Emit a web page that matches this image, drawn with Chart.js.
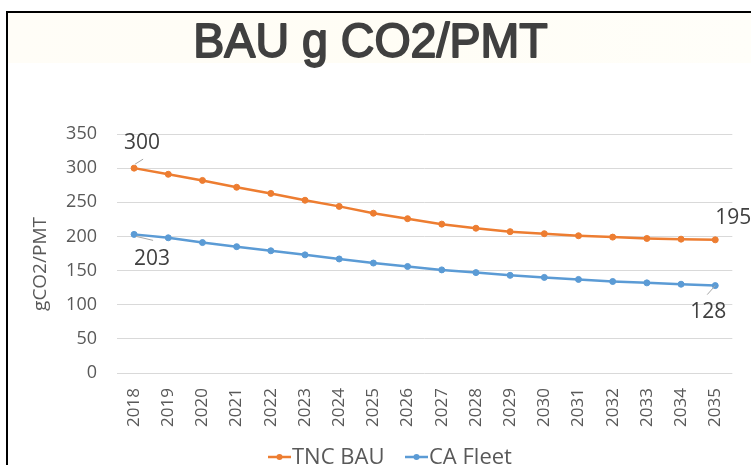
<!DOCTYPE html>
<html>
<head>
<meta charset="utf-8">
<script src="https://cdn.jsdelivr.net/npm/chart.js@4/dist/chart.umd.min.js"></script>
<style>
  html, body { margin: 0; padding: 0; background: #ffffff; }
  #wrap { position: relative; width: 751px; height: 465px; }
</style>
</head>
<body>
<div id="wrap"><canvas id="c" width="751" height="465"></canvas></div>
<script>
const chartTitle = "BAU g CO2/PMT";
const yAxisTitle = "gCO2/PMT";
const years = ["2018","2019","2020","2021","2022","2023","2024","2025","2026","2027","2028","2029","2030","2031","2032","2033","2034","2035"];
const tncBau = [300, 291, 282, 272, 263, 253, 244, 234, 226, 218, 212, 207, 204, 201, 199, 197, 196, 195];
const caFleet = [203, 198, 191, 185, 179, 173, 167, 161, 156, 151, 147, 143, 140, 137, 134, 132, 130, 128];
const seriesNames = ["TNC BAU", "CA Fleet"];
const yTicks = { min: 0, max: 350, step: 50 };

const ORANGE = "#ED7D31";
const BLUE = "#5B9BD5";
const TXT = "#595959";

// label placement: dataset index, point index, text offset, leader line offsets
const labelSpecs = [
  { ds: 0, i: 0, dx: 8, dy: -25, lead: [[1, -4], [9, -9]] },
  { ds: 1, i: 0, dx: 18, dy: 25, lead: [[2, 2], [19, 6]] },
  { ds: 0, i: 17, dx: 18, dy: -22, lead: null },
  { ds: 1, i: 17, dx: -7, dy: 26, lead: [[0, 0], [-8, 9]] }
];

const decor = {
  id: "decor",
  beforeDraw(chart) {
    const ctx = chart.ctx;
    ctx.save();
    ctx.fillStyle = "#ffffff";
    ctx.fillRect(0, 0, chart.width, chart.height);
    // faint title band
    const g = ctx.createLinearGradient(8, 0, chart.width, 0);
    g.addColorStop(0, "#fffdf7");
    g.addColorStop(0.5, "#fffdf5");
    g.addColorStop(1, "#fffef9");
    ctx.fillStyle = g;
    ctx.fillRect(8, 13, chart.width - 8, 50);
    // frame
    ctx.strokeStyle = "#000000";
    ctx.lineWidth = 2;
    ctx.beginPath();
    ctx.moveTo(7, chart.height);
    ctx.lineTo(7, 12);
    ctx.lineTo(chart.width, 12);
    ctx.stroke();
    ctx.restore();
  },
  afterDraw(chart) {
    const ctx = chart.ctx;
    // chart title
    ctx.save();
    ctx.fillStyle = "#404040";
    ctx.strokeStyle = "#404040";
    ctx.lineWidth = 1.8;
    ctx.lineJoin = "round";
    ctx.font = "48px 'Liberation Sans'";
    ctx.textAlign = "center";
    ctx.textBaseline = "alphabetic";
    ctx.translate(370.5, 57);
    ctx.scale(0.97, 1);
    ctx.fillText(chartTitle, 0, 0);
    ctx.strokeText(chartTitle, 0, 0);
    ctx.restore();

    // y axis title
    ctx.save();
    ctx.fillStyle = TXT;
    ctx.font = "19px 'Open Sans'";
    ctx.textAlign = "center";
    ctx.textBaseline = "middle";
    ctx.translate(41, 264);
    ctx.rotate(-Math.PI / 2);
    ctx.fillText(yAxisTitle, 0, 0);
    ctx.restore();

    // data labels
    ctx.save();
    labelSpecs.forEach(s => {
      const meta = chart.getDatasetMeta(s.ds);
      const pt = meta.data[s.i];
      const v = chart.data.datasets[s.ds].data[s.i];
      if (s.lead) {
        ctx.strokeStyle = "#a6a6a6";
        ctx.lineWidth = 1;
        ctx.beginPath();
        ctx.moveTo(pt.x + s.lead[0][0], pt.y + s.lead[0][1]);
        ctx.lineTo(pt.x + s.lead[1][0], pt.y + s.lead[1][1]);
        ctx.stroke();
      }
      ctx.fillStyle = "#404040";
      ctx.font = "21px 'Open Sans'";
      ctx.textAlign = "center";
      ctx.textBaseline = "middle";
      ctx.fillText(String(v), pt.x + s.dx, pt.y + s.dy);
    });
    ctx.restore();

    // legend
    ctx.save();
    const legendItems = [
      { x: 268, color: ORANGE, text: seriesNames[0] },
      { x: 405, color: BLUE, text: seriesNames[1] }
    ];
    const ly = 457;
    legendItems.forEach(it => {
      ctx.strokeStyle = it.color;
      ctx.lineWidth = 2.5;
      ctx.beginPath();
      ctx.moveTo(it.x, ly);
      ctx.lineTo(it.x + 23, ly);
      ctx.stroke();
      ctx.fillStyle = it.color;
      ctx.beginPath();
      ctx.arc(it.x + 11.5, ly, 3, 0, Math.PI * 2);
      ctx.fill();
      ctx.fillStyle = TXT;
      ctx.font = "22px 'Open Sans'";
      ctx.textAlign = "left";
      ctx.textBaseline = "alphabetic";
      ctx.fillText(it.text, it.x + 24, 464);
    });
    ctx.restore();
  }
};

new Chart(document.getElementById("c"), {
  type: "line",
  data: {
    labels: years,
    datasets: [
      {
        label: seriesNames[0],
        data: tncBau,
        borderColor: ORANGE,
        backgroundColor: ORANGE,
        borderWidth: 2.5,
        pointRadius: 3,
        pointBorderWidth: 1,
        pointBackgroundColor: ORANGE,
        pointBorderColor: ORANGE,
        tension: 0
      },
      {
        label: seriesNames[1],
        data: caFleet,
        borderColor: BLUE,
        backgroundColor: BLUE,
        borderWidth: 2.5,
        pointRadius: 3,
        pointBorderWidth: 1,
        pointBackgroundColor: BLUE,
        pointBorderColor: BLUE,
        tension: 0
      }
    ]
  },
  options: {
    responsive: false,
    animation: false,
    devicePixelRatio: 1,
    layout: { padding: { left: 0, right: 13, top: 134, bottom: 0 } },
    plugins: {
      legend: { display: false },
      tooltip: { enabled: false },
      title: { display: false }
    },
    scales: {
      x: {
        type: "category",
        offset: true,
        grid: { display: false, drawTicks: false },
        border: { display: false },
        ticks: {
          color: TXT,
          font: { family: "'Open Sans'", size: 17 },
          minRotation: 90,
          maxRotation: 90,
          autoSkip: false,
          padding: 15
        },
        afterFit(scale) { scale.height = 92; }
      },
      y: {
        min: yTicks.min,
        max: yTicks.max,
        grid: { color: "#d9d9d9", lineWidth: 1, drawTicks: false },
        border: { display: false },
        ticks: {
          stepSize: yTicks.step,
          color: TXT,
          font: { family: "'Open Sans'", size: 18 },
          padding: 20
        },
        afterFit(scale) { scale.width = 117; }
      }
    }
  },
  plugins: [decor]
});
</script>
</body>
</html>
